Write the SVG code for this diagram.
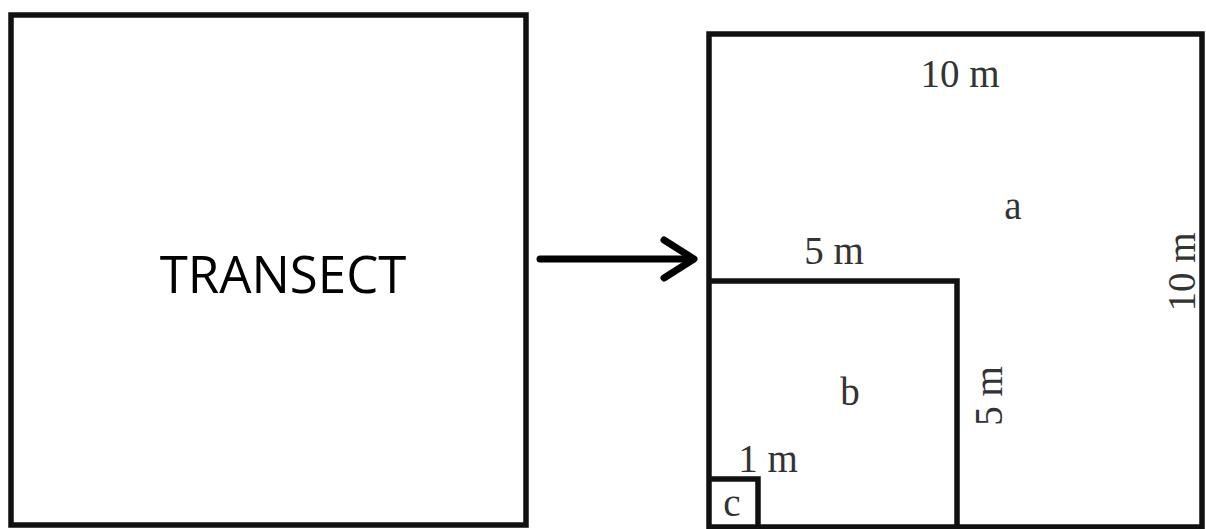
<svg xmlns="http://www.w3.org/2000/svg" width="1206" height="529" viewBox="0 0 1206 529">
<style>
.box{fill:none;stroke:#111;stroke-width:5.5}
.lbl{font-family:"Liberation Serif",serif;font-size:39px;fill:#333}
.ttl{font-family:"Open Sans","Liberation Sans",sans-serif;font-size:51px;fill:#000}
.con{fill:none;stroke:#000;stroke-width:7;stroke-linecap:round;stroke-linejoin:round}
</style>
<rect width="1206" height="529" fill="#fff"/>
<g id="transect">
<rect class="box" x="11" y="15" width="515" height="510"/>
<text class="ttl" x="283" y="293" text-anchor="middle">TRANSECT</text>
</g>
<g id="connectors">
<line class="con" x1="540" y1="259" x2="692" y2="259"/>
<polyline class="con" points="664,240 694,259 664,278"/>
</g>
<g id="plot-a">
<rect class="box" x="709" y="34" width="493" height="493"/>
<text class="lbl" x="960" y="87" text-anchor="middle">10 m</text>
<text class="lbl" x="1013" y="219" text-anchor="middle">a</text>
<text class="lbl" transform="translate(1195,272) rotate(-90)" text-anchor="middle">10 m</text>
</g>
<g id="plot-b">
<path class="box" d="M709,281 H957 V527"/>
<text class="lbl" x="834" y="264" text-anchor="middle">5 m</text>
<text class="lbl" x="850" y="405" text-anchor="middle">b</text>
<text class="lbl" transform="translate(1002,396) rotate(-90)" text-anchor="middle">5 m</text>
</g>
<g id="plot-c">
<path class="box" d="M709,479 H758 V527"/>
<text class="lbl" x="768" y="472" text-anchor="middle">1 m</text>
<text class="lbl" x="732" y="516" text-anchor="middle">c</text>
</g>
</svg>
